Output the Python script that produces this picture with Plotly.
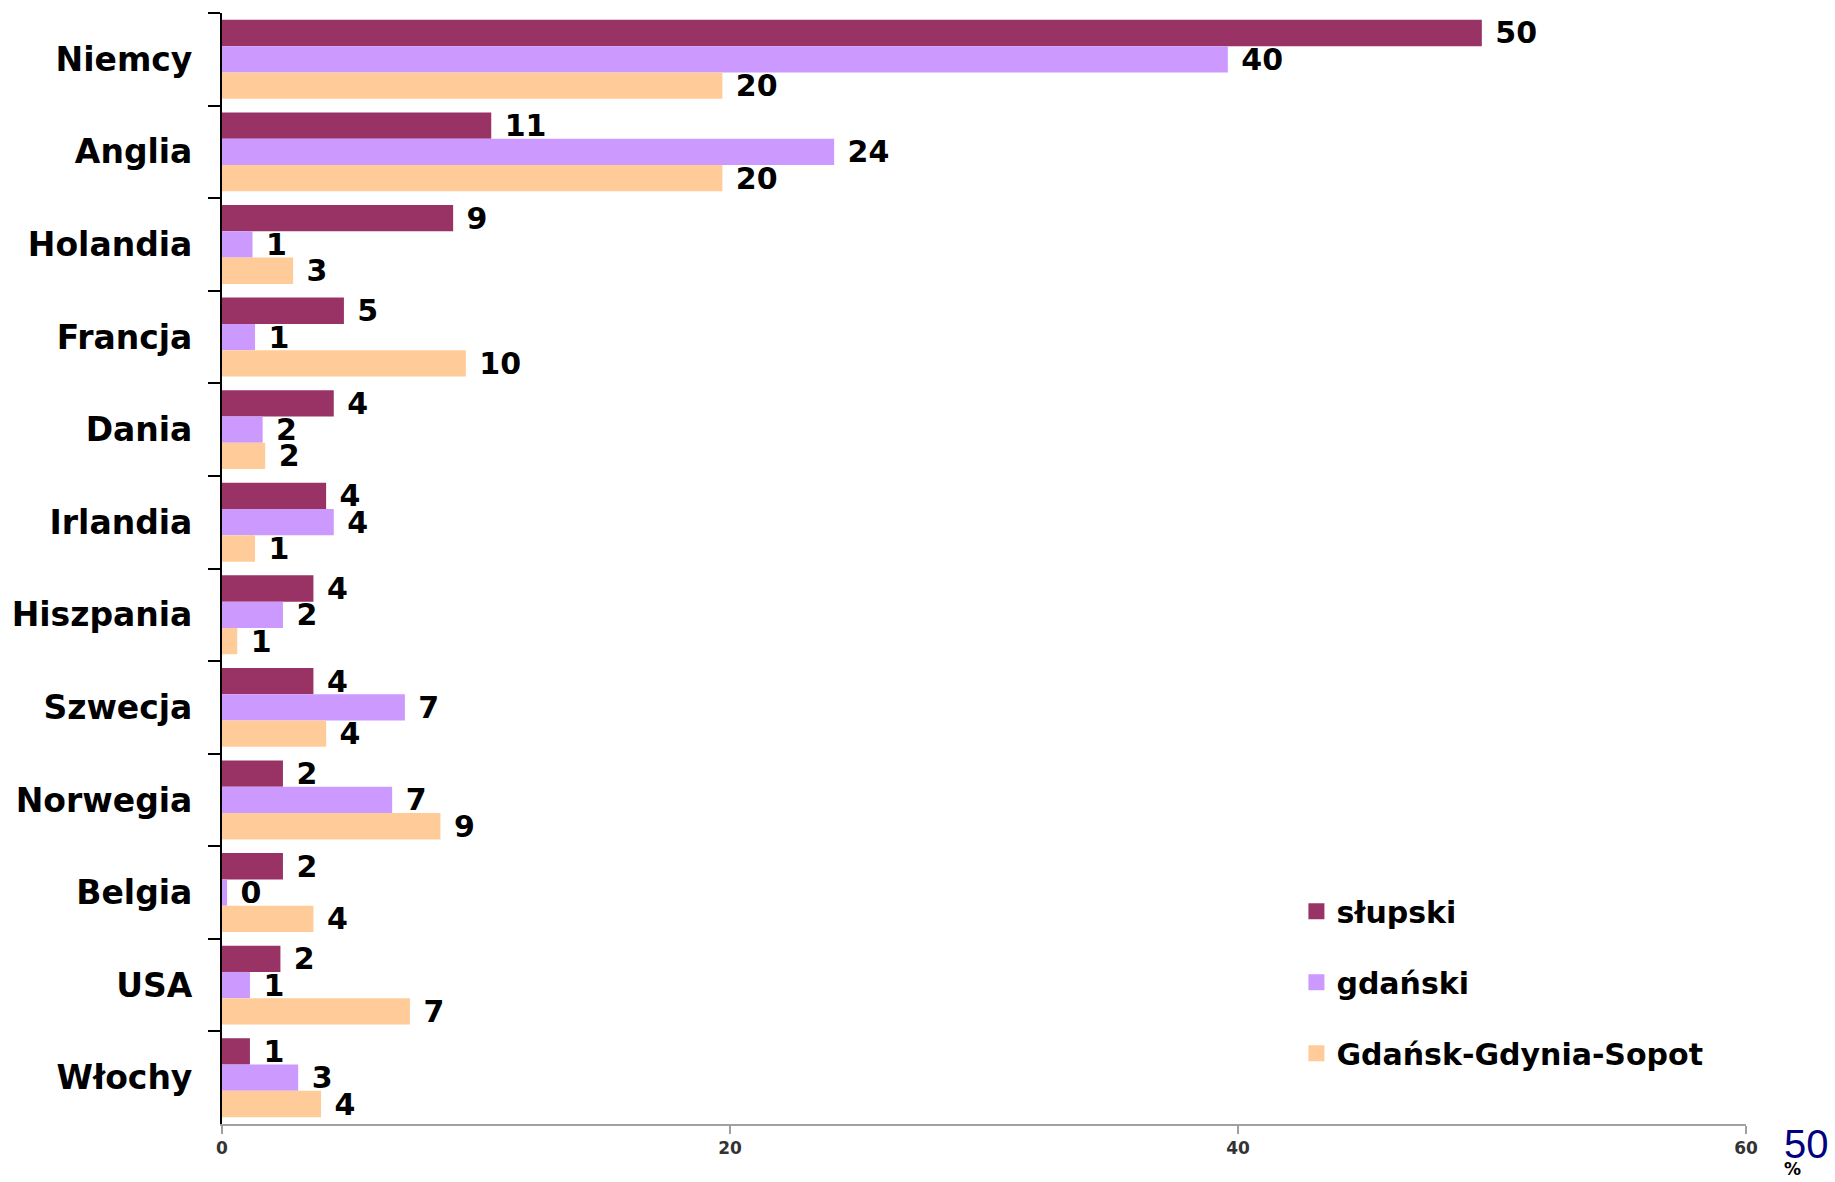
import plotly.graph_objects as go

categories = ["Niemcy", "Anglia", "Holandia", "Francja", "Dania", "Irlandia",
              "Hiszpania", "Szwecja", "Norwegia", "Belgia", "USA", "Włochy"]
series_names = ["słupski", "gdański", "Gdańsk-Gdynia-Sopot"]
slupski = [49.6, 10.6, 9.1, 4.8, 4.4, 4.1, 3.6, 3.6, 2.4, 2.4, 2.3, 1.1]
gdanski = [39.6, 24.1, 1.2, 1.3, 1.6, 4.4, 2.4, 7.2, 6.7, 0.2, 1.1, 3.0]
ggs = [19.7, 19.7, 2.8, 9.6, 1.7, 1.3, 0.6, 4.1, 8.6, 3.6, 7.4, 3.9]
colors = ["#993366", "#CC99FF", "#FFCC99"]
x_ticks = [0, 20, 40, 60]

FONT = "Verdana, DejaVu Sans, sans-serif"

fig = go.Figure()
for name, vals, col in zip(series_names, [slupski, gdanski, ggs], colors):
    fig.add_trace(go.Bar(
        y=categories, x=vals, name=name, orientation="h",
        marker=dict(color=col, line=dict(width=0)),
        texttemplate=" %{x:.0f}", textposition="outside",
        textfont=dict(family=FONT, size=30, color="black", weight="bold"),
        constraintext="none", cliponaxis=False,
        legendgroup=name, showlegend=False,
    ))
# legend entries with larger square swatches
for name, col in zip(series_names, colors):
    fig.add_trace(go.Scatter(
        x=[None], y=[None], mode="markers", name=name, legendgroup=name,
        marker=dict(symbol="square", size=20, color=col, line=dict(width=0)),
        showlegend=True,
    ))

fig.update_layout(
    width=1835, height=1182,
    margin=dict(l=220, r=89, t=13, b=58),
    paper_bgcolor="white", plot_bgcolor="white",
    barmode="group", bargap=0.147, bargroupgap=0,
    showlegend=True,
    legend=dict(x=0.705, y=0.215, xanchor="left", yanchor="top",
                itemsizing="trace",
                font=dict(family=FONT, size=30, color="black", weight="bold"),
                tracegroupgap=29, bgcolor="rgba(0,0,0,0)"),
    xaxis=dict(range=[0, 60], tickvals=x_ticks, showgrid=False, zeroline=False,
               showline=True, linecolor="#A0A0A0", linewidth=2,
               ticks="outside", ticklen=8, tickcolor="#A0A0A0", tickwidth=2,
               tickfont=dict(family=FONT, size=17, color="#333333", weight="bold")),
    yaxis=dict(autorange="reversed", showgrid=False, zeroline=False,
               showline=True, linecolor="black", linewidth=2,
               ticks="outside", ticklen=12, tickcolor="black", tickwidth=2,
               tickson="boundaries", ticklabelstandoff=21,
               tickfont=dict(family=FONT, size=33, color="black", weight="bold")),
)

fig.add_annotation(text="50", xref="paper", yref="paper", x=1.0, y=0.0,
                   xanchor="left", yanchor="top", xshift=36, yshift=4, showarrow=False,
                   font=dict(family="Liberation Sans, Arial", size=40, color="#000080"))
fig.add_annotation(text="%", xref="paper", yref="paper", x=1.0, y=0.0,
                   xanchor="left", yanchor="top", xshift=36, yshift=-33, showarrow=False,
                   font=dict(family=FONT, size=17, color="black", weight="bold"))

fig.write_html("out.html", config={"displayModeBar": False},
               post_script="document.body.style.margin='0';")
